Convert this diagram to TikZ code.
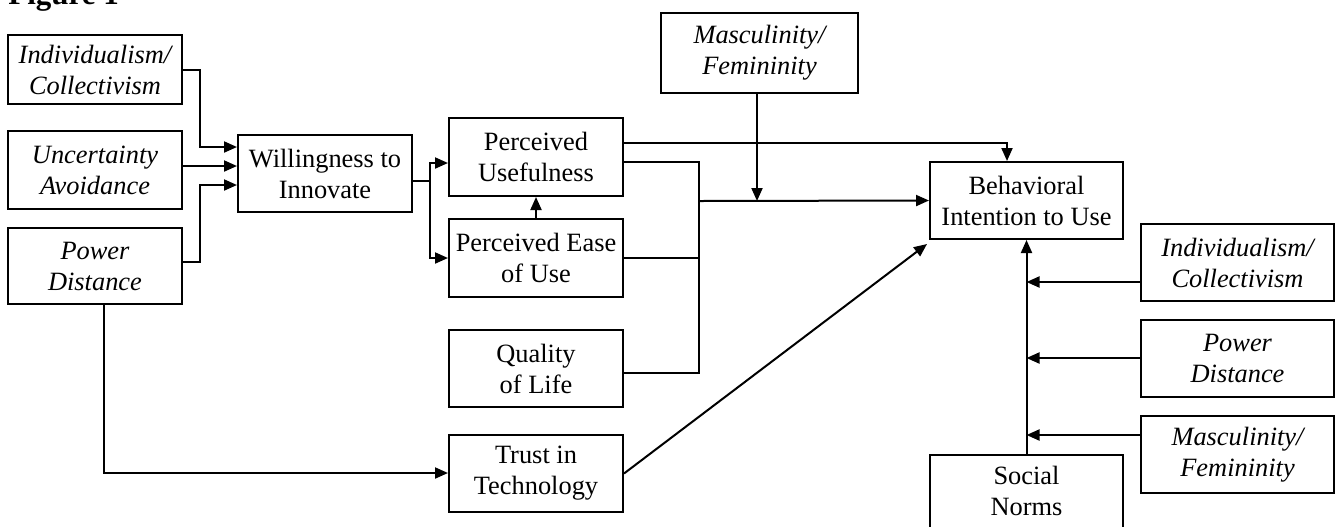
\documentclass[tikz,border=0pt]{standalone}
\usepackage{fontspec}
\setmainfont{Liberation Serif}
\usetikzlibrary{arrows.meta,calc}
\begin{document}
\begin{tikzpicture}[x=0.5pt,y=-0.5pt,
  box/.style={draw, line width=1pt, align=center, inner sep=0pt,
    font=\fontsize{13.2}{15.5}\selectfont},
  ibox/.style={box, font=\fontsize{13.2}{15.5}\selectfont\itshape},
  narrow/.style={minimum width=87pt},
  wide/.style={minimum width=96.5pt},
  conn/.style={line width=1pt},
  arr/.style={conn, -{Triangle[length=6.5pt,width=5.5pt]}}]
\useasboundingbox (0,0) rectangle (1336,526);
\node[anchor=base west, inner sep=0pt, font=\fontsize{15.5}{18}\selectfont\bfseries] (title) at (8,4) {Figure 1};
% left column
\node[ibox, narrow, minimum height=34.5pt] (lic) at (95,69.5) {Individualism/\\Collectivism};
\node[ibox, narrow, minimum height=39pt] (ua) at (95,170) {Uncertainty\\Avoidance};
\node[ibox, narrow, minimum height=38pt] (pdl) at (95,266) {Power\\Distance};
\node[box, narrow, minimum height=38.5pt] (wil) at (325,173.5) {Willingness to\\Innovate};
% middle column
\node[box, narrow, minimum height=39pt] (pu) at (536,157) {Perceived\\Usefulness};
\node[box, narrow, minimum height=39pt] (peu) at (536,258) {Perceived Ease\\of Use};
\node[box, narrow, minimum height=38.5pt] (qol) at (536,368.5) {Quality\\of Life};
\node[box, narrow, minimum height=38.5pt] (trust) at (536,473.5) {Trust in\\Technology};
\node[ibox, minimum width=98.5pt, minimum height=40pt] (mfc) at (759.5,53) {Masculinity/\\Femininity};
% right part
\node[box, wide, minimum height=38.5pt] (bi) at (1026.5,200.5) {Behavioral\\Intention to Use};
\node[ibox, wide, minimum height=38.5pt] (icr) at (1237.5,262.5) {Individualism/\\Collectivism};
\node[ibox, wide, minimum height=38.5pt] (pdr) at (1237.5,358.5) {Power\\Distance};
\node[ibox, wide, minimum height=38.5pt] (mfr) at (1237.5,454.5) {Masculinity/\\Femininity};
\node[box, wide, minimum height=39pt, anchor=north] (sn) at (1026.5,454) {\raisebox{2.5pt}{\begin{tabular}{@{}c@{}}Social\\Norms\end{tabular}}};
% connectors into Willingness
\draw[arr] (lic.east) -| (200,147) -- (wil.west |- 0,147);
\draw[arr] (ua.east |- 0,166) -- (wil.west |- 0,166);
\draw[arr] (pdl.east |- 0,262) -| (200,185) -- (wil.west |- 0,185);
% Willingness to PU / PEU
\draw[conn] (wil.east |- 0,181) -- (430,181) coordinate (wj);
\draw[arr] (wj) |- (pu.west |- 0,163);
\draw[arr] (wj) |- (peu.west);
\draw[arr] (peu.north) -- (pu.south);
% PU direct to BI
\draw[arr] (pu.east |- 0,143) -| (bi.north -| 1007,0);
% collector
\draw[conn] (pu.east |- 0,162) -| (699,373) -- (qol.east |- 0,373);
\draw[conn] (peu.east) -- (699,258);
\coordinate (jc) at (699,201);
\draw[arr] (jc) -- (bi.west);
\draw[arr] (mfc.south -| 757,0) -- (757,201);
% Power distance to trust
\draw[arr] (pdl.south -| 104,0) |- (trust.west |- 0,473);
\draw[arr] (trust.east) -- ($(bi.south west)+(-2,4)$);
% social norms and moderators
\draw[arr] (sn.north) -- (bi.south);
\draw[arr] (icr.west |- 0,282) -- (bi.south |- 0,282);
\draw[arr] (pdr.west |- 0,358) -- (bi.south |- 0,358);
\draw[arr] (mfr.west |- 0,435) -- (bi.south |- 0,435);
\end{tikzpicture}
\end{document}
